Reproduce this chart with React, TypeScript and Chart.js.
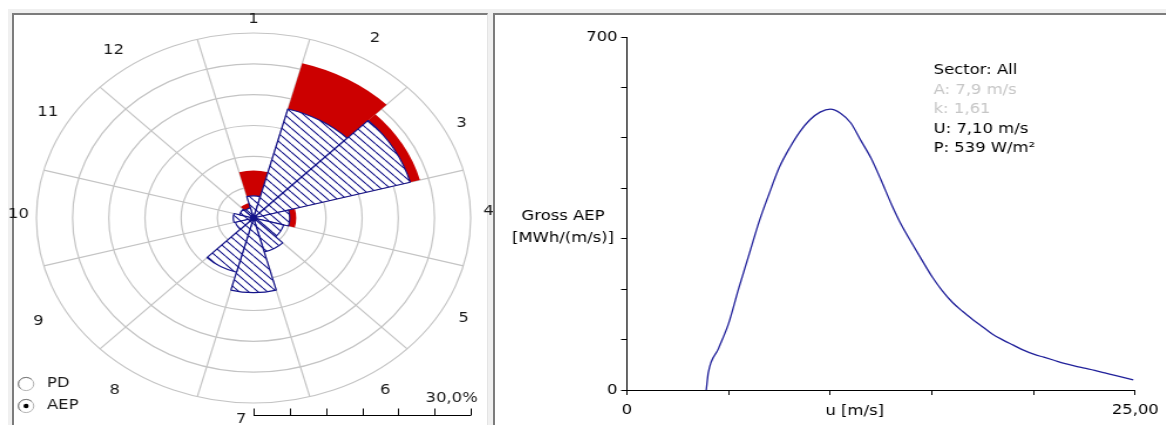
import React, { useEffect, useRef } from 'react';
import { Chart, registerables } from 'chart.js';

Chart.register(...registerables);

// ---------- data ----------
const SECTOR_LABELS = ['1', '2', '3', '4', '5', '6', '7', '8', '9', '10', '11', '12'];
// hatched wedges (AEP share per sector, %)
const AEP_SHARE = [3.6, 18.3, 22.4, 5.0, 4.3, 5.7, 12.1, 9.1, 2.6, 2.8, 2.0, 1.7];
// solid red wedges (frequency per sector, %)
const FREQ_SHARE = [7.7, 26.0, 23.8, 5.9, 3.6, 4.6, 9.0, 7.2, 2.2, 2.3, 1.6, 2.5];
const RING_STEP = 5;
const RING_MAX = 30;
const SCALE_LABEL = '30,0%';
const MODE_OPTIONS = ['PD', 'AEP'];
const MODE_SELECTED = 1;

const WIND_SPEED = [
  3.9, 4.0, 4.5, 5.0, 5.5, 6.0, 6.5, 7.0, 7.5, 8.0, 8.5, 9.0, 9.5,
  10.0, 10.5, 11.0, 11.5, 12.0, 12.5, 13.0, 13.5, 14.0, 14.5, 15.0, 15.5, 16.0, 16.5, 17.0, 17.5,
  18.0, 18.5, 19.0, 19.5, 20.0, 20.5, 21.0, 21.5, 22.0, 22.5, 23.0, 23.5, 24.0, 24.5, 24.9,
];
const GROSS_AEP = [
  0, 34, 82, 132, 202, 268, 334, 390, 442, 480, 512, 536, 551,
  557, 549, 530, 495, 460, 416, 369, 327, 292, 258, 225, 197, 174, 156, 140, 125,
  110, 99, 89, 79, 71, 65, 59, 53, 48, 43.5, 39, 34, 29, 24, 20,
];
const Y_MIN = 0;
const Y_MAX = 700;
const Y_STEP = 100;
const Y_LABELLED = [0, 700];
const X_MIN = 0;
const X_MAX = 25;
const X_STEP = 5;
const X_TICK_TEXT: Record<number, string> = { 0: '0', 25: '25,00' };
const X_TITLE = 'u [m/s]';
const Y_TITLE = ['Gross AEP', '[MWh/(m/s)]'];
const INFO_LINES = ['Sector: All', 'A: 7,9 m/s', 'k: 1,61', 'U: 7,10 m/s', 'P: 539 W/m²'];
const INFO_MUTED = [false, true, true, false, false];

// ---------- styles ----------
const SX = 1.173; // horizontal stretch of the picture
const NAVY = '#14148a';
const RED = '#cc0000';
const GRID = '#c4c4c4';
const FONT = '"DejaVu Sans", Verdana, sans-serif';
// label placement: angular nudge (deg) and distance (fraction of outer ring)
const LABEL_NUDGE = [0, 0, 2, -2, -0.6, -3, 3, 4.5, 0.6, 1, 1, -5.5];
const LABEL_DIST = [1.076, 1.119, 1.085, 1.083, 1.11, 1.113, 1.088, 1.129, 1.137, 1.083, 1.105, 1.11];

function makeHatch(): CanvasPattern | string {
  const s = 8;
  const c = document.createElement('canvas');
  c.width = s;
  c.height = s;
  const g = c.getContext('2d');
  if (!g) return '#fff';
  g.fillStyle = '#fff';
  g.fillRect(0, 0, s, s);
  g.strokeStyle = NAVY;
  g.lineWidth = 1.1;
  g.beginPath();
  for (const k of [-s, 0, s]) {
    g.moveTo(k, 0);
    g.lineTo(k + s, s);
  }
  g.stroke();
  return g.createPattern(c, 'repeat') ?? '#fff';
}

const roseDecor = {
  id: 'roseDecor',
  afterDraw(chart: any) {
    const ctx: CanvasRenderingContext2D = chart.ctx;
    const r = chart.scales.r;
    const cx = r.xCenter;
    const cy = r.yCenter;
    const n = SECTOR_LABELS.length;
    ctx.save();
    // hub
    ctx.fillStyle = NAVY;
    ctx.beginPath();
    ctx.arc(cx, cy, 3.2, 0, Math.PI * 2);
    ctx.fill();
    // sector labels
    const outer = r.getDistanceFromCenterForValue(RING_MAX);
    ctx.font = `14px ${FONT}`;
    ctx.fillStyle = '#1a1a1a';
    ctx.textAlign = 'center';
    ctx.textBaseline = 'middle';
    SECTOR_LABELS.forEach((lab, i) => {
      const a = r.getIndexAngle(i) + Math.PI / n - Math.PI / 2 + (LABEL_NUDGE[i] * Math.PI) / 180;
      const d = outer * LABEL_DIST[i];
      ctx.fillText(lab, cx + Math.cos(a) * d, cy + Math.sin(a) * d);
    });
    // scale bar
    const barY = 415.5;
    ctx.strokeStyle = '#000';
    ctx.lineWidth = 1;
    ctx.beginPath();
    ctx.moveTo(cx, barY);
    ctx.lineTo(cx + outer, barY);
    for (let v = 0; v <= RING_MAX; v += RING_STEP) {
      const x = Math.round(cx + r.getDistanceFromCenterForValue(v)) + 0.5;
      ctx.moveTo(x, barY);
      ctx.lineTo(x, barY - 7);
    }
    ctx.stroke();
    ctx.textAlign = 'right';
    ctx.textBaseline = 'alphabetic';
    ctx.fillStyle = '#1a1a1a';
    ctx.fillText(SCALE_LABEL, cx + outer + 6, 402);
    // mode radio buttons
    MODE_OPTIONS.forEach((m, i) => {
      const y = 384 + i * 22;
      const x = 22.2;
      ctx.fillStyle = '#fff';
      ctx.beginPath();
      ctx.arc(x, y, 6.6, 0, Math.PI * 2);
      ctx.fill();
      ctx.strokeStyle = '#b4b4b4';
      ctx.lineWidth = 1;
      ctx.stroke();
      ctx.strokeStyle = '#7a7a7a';
      ctx.beginPath();
      ctx.arc(x, y, 6.6, Math.PI * 0.75, Math.PI * 1.75);
      ctx.stroke();
      if (i === MODE_SELECTED) {
        ctx.fillStyle = '#000';
        ctx.beginPath();
        ctx.arc(x, y, 2.2, 0, Math.PI * 2);
        ctx.fill();
      }
      ctx.fillStyle = '#1a1a1a';
      ctx.textAlign = 'left';
      ctx.textBaseline = 'middle';
      ctx.font = `14px ${FONT}`;
      ctx.fillText(m, 40, y - 1);
    });
    ctx.restore();
  },
};

const curveDecor = {
  id: 'curveDecor',
  afterDraw(chart: any) {
    const ctx: CanvasRenderingContext2D = chart.ctx;
    const xs = chart.scales.x;
    const ys = chart.scales.y;
    ctx.save();
    ctx.font = `14px ${FONT}`;
    ctx.fillStyle = '#000';
    ctx.textAlign = 'center';
    ctx.textBaseline = 'middle';
    // y title, second line level with the 300 tick
    const yT = ys.getPixelForValue(300);
    ctx.fillText(Y_TITLE[0], 58, yT - 22);
    ctx.fillText(Y_TITLE[1], 58, yT);
    // x title
    ctx.fillText(X_TITLE, xs.getPixelForValue(11.2), xs.top + 21);
    // info block
    ctx.textAlign = 'left';
    ctx.textBaseline = 'alphabetic';
    INFO_LINES.forEach((t, i) => {
      ctx.fillStyle = INFO_MUTED[i] ? '#c6c6c6' : '#000';
      ctx.fillText(t, 374, 74 + i * 19.5);
    });
    ctx.restore();
  },
};

export default function App() {
  const roseRef = useRef<HTMLCanvasElement>(null);
  const curveRef = useRef<HTMLCanvasElement>(null);

  useEffect(() => {
    if (!roseRef.current || !curveRef.current) return;
    const hatch = makeHatch();

    const rose = new Chart(roseRef.current, {
      type: 'polarArea',
      data: {
        labels: SECTOR_LABELS,
        datasets: [
          {
            label: 'AEP',
            data: AEP_SHARE,
            backgroundColor: hatch as any,
            borderColor: NAVY,
            borderWidth: 1.2,
            order: 0,
          },
          {
            label: 'PD',
            data: FREQ_SHARE,
            backgroundColor: RED,
            borderColor: RED,
            borderWidth: 0,
            order: 1,
          },
        ],
      },
      options: {
        animation: false,
        responsive: false,
        layout: { padding: { left: 31, right: 19, top: 33, bottom: 22 } },
        plugins: { legend: { display: false }, tooltip: { enabled: false } },
        scales: {
          r: {
            min: 0,
            max: RING_MAX,
            startAngle: -15,
            ticks: { display: false, stepSize: RING_STEP },
            grid: { color: GRID, lineWidth: 1.2, circular: true },
            angleLines: { display: true, color: GRID, lineWidth: 1.2 },
            pointLabels: { display: false },
          },
        },
      } as any,
      plugins: [roseDecor],
    });

    const tickFont = { family: FONT, size: 14 };
    const curve = new Chart(curveRef.current, {
      type: 'line',
      data: {
        datasets: [
          {
            label: 'Gross AEP',
            data: WIND_SPEED.map((u, i) => ({ x: u, y: GROSS_AEP[i] })),
            borderColor: '#20209a',
            borderWidth: 1.3,
            pointRadius: 0,
            cubicInterpolationMode: 'monotone',
            fill: false,
          },
        ],
      },
      options: {
        animation: false,
        responsive: false,
        layout: { padding: { left: 0, right: 23, top: 37, bottom: 0 } },
        plugins: { legend: { display: false }, tooltip: { enabled: false } },
        scales: {
          x: {
            type: 'linear',
            min: X_MIN,
            max: X_MAX,
            afterFit: (s: any) => {
              s.height = 35;
            },
            ticks: {
              stepSize: X_STEP,
              autoSkip: false,
              maxRotation: 0,
              padding: 7,
              color: '#000',
              font: tickFont,
              callback: (v: any) => X_TICK_TEXT[Number(v)] ?? '',
            },
            grid: { drawOnChartArea: false, tickLength: 5, color: '#000' },
            border: { color: '#000', width: 1 },
          },
          y: {
            min: Y_MIN,
            max: Y_MAX,
            afterFit: (s: any) => {
              s.width = 112.5;
            },
            ticks: {
              stepSize: Y_STEP,
              autoSkip: false,
              padding: 3,
              color: '#000',
              font: tickFont,
              callback: (v: any) => (Y_LABELLED.includes(Number(v)) ? String(v) : ''),
            },
            grid: { drawOnChartArea: false, tickLength: 5, color: '#000' },
            border: { color: '#000', width: 1 },
          },
        },
      } as any,
      plugins: [curveDecor],
    });

    return () => {
      rose.destroy();
      curve.destroy();
    };
  }, []);

  const frame = (left: number, width: number): React.CSSProperties => ({
    position: 'absolute',
    left,
    top: 13,
    width,
    height: 430,
    boxSizing: 'border-box',
    borderTop: '2px solid #7c7c7c',
    borderLeft: '2px solid #7c7c7c',
    borderRight: '1px solid #e4e4e4',
    background: '#fff',
  });

  return (
    <div
      style={{
        position: 'fixed',
        left: 0,
        top: 0,
        width: 1166,
        height: 425,
        overflow: 'hidden',
        background: '#fff',
      }}
    >
      <div style={{ position: 'absolute', left: 8, top: 9, width: 1170, height: 430, background: '#f0f0f0' }} />
      <div style={frame(12, 476)} />
      <div style={frame(493, 690)} />
      <canvas
        ref={roseRef}
        width={420}
        height={425}
        style={{ position: 'absolute', left: 0, top: 0, width: `${420 * SX}px`, height: '425px' }}
      />
      <canvas
        ref={curveRef}
        width={573}
        height={425}
        style={{ position: 'absolute', left: 495, top: 0, width: `${573 * SX}px`, height: '425px' }}
      />
    </div>
  );
}
